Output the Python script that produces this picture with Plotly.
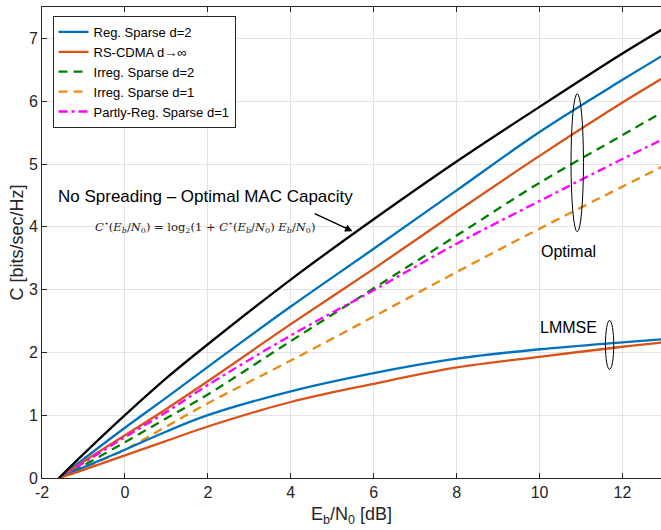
import plotly.graph_objects as go

# Eb/N0 [dB] sample points
ebn0 = [-1.59, -1, 0, 1, 2, 4, 6, 8, 10, 12, 13]

# Capacity curves [bits/sec/Hz]
c_nospread = [0, 0.38, 1.00, 1.59, 2.13, 3.16, 4.12, 5.04, 5.91, 6.76, 7.16]
c_reg_d2 = [0, 0.30, 0.80, 1.28, 1.77, 2.73, 3.65, 4.58, 5.51, 6.34, 6.74]
c_rs_inf = [0, 0.26, 0.68, 1.10, 1.54, 2.45, 3.33, 4.24, 5.13, 5.98, 6.38]
c_irr_d2 = [0, 0.20, 0.57, 0.95, 1.33, 2.18, 3.02, 3.86, 4.70, 5.46, 5.84]
c_irr_d1 = [0, 0.16, 0.45, 0.82, 1.19, 1.87, 2.57, 3.28, 3.97, 4.64, 4.97]
c_partly_d1 = [0, 0.24, 0.65, 1.05, 1.48, 2.27, 2.99, 3.73, 4.41, 5.08, 5.40]
c_lmmse_reg_d2 = [0, 0.17, 0.45, 0.74, 1.00, 1.38, 1.67, 1.90, 2.05, 2.16, 2.21]
c_lmmse_rs_inf = [0, 0.13, 0.36, 0.59, 0.82, 1.21, 1.50, 1.76, 1.93, 2.09, 2.16]

legend_names = ["Reg. Sparse d=2", "RS-CDMA d→∞", "Irreg. Sparse d=2",
                "Irreg. Sparse d=1", "Partly-Reg. Sparse d=1"]

x_tickvals = [-2, 0, 2, 4, 6, 8, 10, 12]
x_ticktext = ["-2", "0", "2", "4", "6", "8", "10", "12"]
y_tickvals = [0, 1, 2, 3, 4, 5, 6, 7]

BLUE = "#0072BD"
ORANGE = "#D95319"
GREEN = "#008000"
LORANGE = "#EA8A12"
MAGENTA = "#FF00FF"
LW = 2.3


def line(color, dash="solid"):
    return dict(color=color, width=LW, dash=dash, shape="spline", smoothing=1.0)


fig = go.Figure()
fig.add_trace(go.Scatter(x=ebn0, y=c_reg_d2, mode="lines", name=legend_names[0],
                         line=line(BLUE)))
fig.add_trace(go.Scatter(x=ebn0, y=c_rs_inf, mode="lines", name=legend_names[1],
                         line=line(ORANGE)))
fig.add_trace(go.Scatter(x=ebn0, y=c_irr_d2, mode="lines", name=legend_names[2],
                         line=line(GREEN, "9px,6px")))
fig.add_trace(go.Scatter(x=ebn0, y=c_irr_d1, mode="lines", name=legend_names[3],
                         line=line(LORANGE, "9px,6px")))
fig.add_trace(go.Scatter(x=ebn0, y=c_partly_d1, mode="lines", name=legend_names[4],
                         line=line(MAGENTA, "9px,4px,3px,4px")))
fig.add_trace(go.Scatter(x=ebn0, y=c_lmmse_reg_d2, mode="lines", showlegend=False,
                         line=line(BLUE)))
fig.add_trace(go.Scatter(x=ebn0, y=c_lmmse_rs_inf, mode="lines", showlegend=False,
                         line=line(ORANGE)))
fig.add_trace(go.Scatter(x=ebn0, y=c_nospread, mode="lines", showlegend=False,
                         line=line("black")))

FONT = "Liberation Sans, Arial, sans-serif"

# ellipses
fig.add_shape(type="circle", xref="x", yref="y", x0=10.76, x1=11.06, y0=3.92, y1=6.12,
              line=dict(color="black", width=1))
fig.add_shape(type="circle", xref="x", yref="y", x0=11.59, x1=11.79, y0=1.73, y1=2.51,
              line=dict(color="black", width=1))

fig.add_annotation(x=10.70, y=3.60, text="Optimal", showarrow=False,
                   font=dict(family=FONT, size=16, color="black"))
fig.add_annotation(x=10.71, y=2.40, text="LMMSE", showarrow=False,
                   font=dict(family=FONT, size=16, color="black"))
fig.add_annotation(x=-1.67, y=4.48, xanchor="left", text="No Spreading – Optimal MAC Capacity",
                   showarrow=False, font=dict(family=FONT, size=17, color="black"))
fig.add_annotation(x=1.92, y=4.0,
                   text=("<i>C</i><sup>⋆</sup>(<i>E<sub>b</sub></i>/<i>N</i><sub>0</sub>) = "
                         "log<sub>2</sub>(1 + <i>C</i><sup>⋆</sup>(<i>E<sub>b</sub></i>/<i>N</i><sub>0</sub>) "
                         "<i>E<sub>b</sub></i>/<i>N</i><sub>0</sub>)"),
                   showarrow=False, font=dict(family="DejaVu Serif, serif", size=11.5, color="#222"))
fig.add_annotation(x=5.49, y=3.93, ax=4.54, ay=4.22, axref="x", ayref="y", xref="x", yref="y",
                   text="", showarrow=True, arrowhead=2, arrowsize=1, arrowwidth=1.5,
                   arrowcolor="black")

axis_common = dict(showgrid=True, gridcolor="#E3E3E3", gridwidth=1,
                   showline=True, linecolor="#262626", linewidth=1,
                   ticks="inside", ticklen=5, tickcolor="#262626",
                   tickfont=dict(family=FONT, size=16, color="#262626"),
                   zeroline=False, automargin=False)

fig.update_layout(
    width=661, height=530,
    margin=dict(l=42, r=0, t=7, b=52),
    paper_bgcolor="white", plot_bgcolor="white",
    xaxis=dict(range=[-2, 12.93], tickvals=x_tickvals, ticktext=x_ticktext, mirror="ticks",
               title=dict(text="E<sub>b</sub>/N<sub>0</sub> [dB]", standoff=7,
                          font=dict(family=FONT, size=18, color="#262626")),
               **axis_common),
    yaxis=dict(range=[0, 7.5], tickvals=y_tickvals,
               title=dict(text="C [bits/sec/Hz]", standoff=0,
                          font=dict(family=FONT, size=18, color="#262626")),
               **axis_common),
    legend=dict(x=0.017, y=0.981, xanchor="left", yanchor="top",
                bgcolor="white", bordercolor="#262626", borderwidth=1,
                font=dict(family=FONT, size=13, color="black"),
                tracegroupgap=0, itemwidth=30),
    showlegend=True,
)

fig.write_html("out.html", config={"displayModeBar": False},
               post_script="document.body.style.margin='0px';")
